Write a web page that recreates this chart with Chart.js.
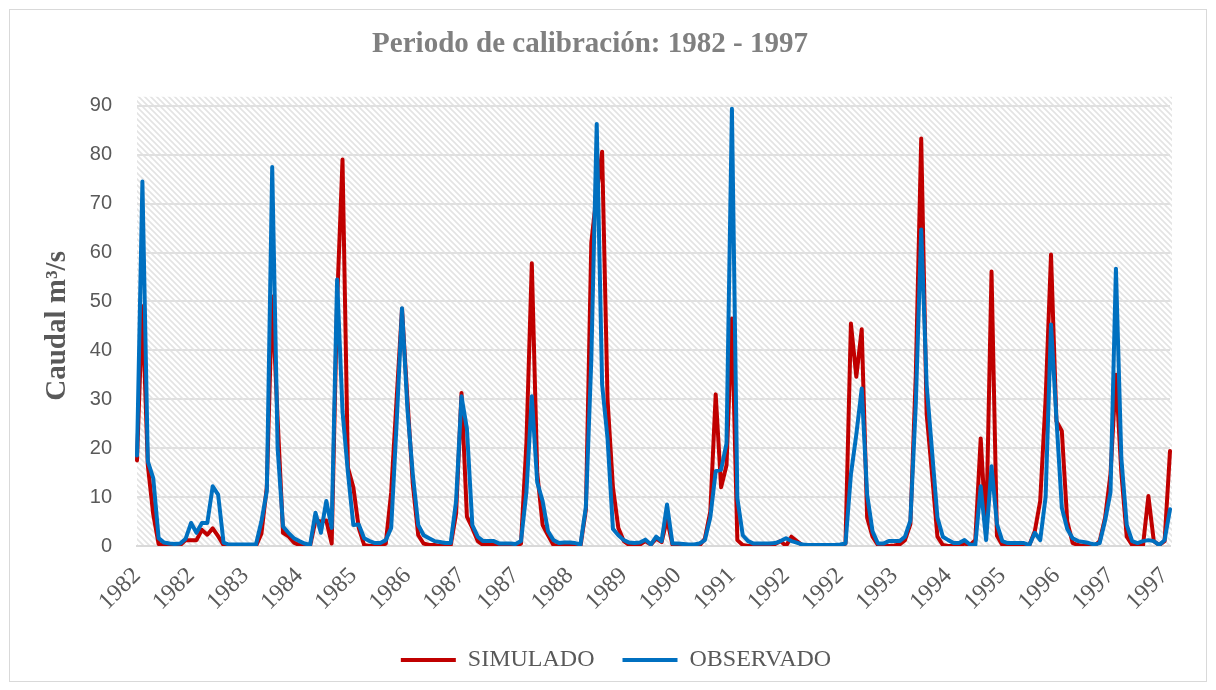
<!DOCTYPE html>
<html>
<head>
<meta charset="utf-8">
<script src="https://cdn.jsdelivr.net/npm/chart.js@4.4.0/dist/chart.umd.min.js"></script>
<style>
  html, body { margin: 0; padding: 0; background: #fff; }
  #caja { width: 1216px; height: 690px; position: relative; }
</style>
</head>
<body>
<div id="caja"><canvas id="grafico-caudal"></canvas></div>
<script>
// años del periodo (datos mensuales, enero 1982 - diciembre 1997)
const anios = [1982, 1983, 1984, 1985, 1986, 1987, 1988, 1989, 1990, 1991, 1992, 1993, 1994, 1995, 1996, 1997];
const etiquetasMeses = anios.flatMap(a => Array(12).fill(String(a)));
const pasoEtiquetas = 10; // el eje muestra una etiqueta cada 10 meses
const ticksY = [0, 10, 20, 30, 40, 50, 60, 70, 80, 90];

const caudalSimulado = [
    17.5, 49, 16.5, 6.5, 0.4, 0.2, 0.1, 0.1, 0.2, 1.2, 1.2, 1.2,
    3.3, 2.3, 3.6, 2.0, 0.2, 0, 0, 0, 0, 0, 0, 2.5,
    12, 51, 26, 2.7, 2.0, 0.7, 0.2, 0, 0, 5.2, 5.0, 5.2,
    0.5, 50, 79, 16, 12, 3.7, 0.2, 0, 0, 0, 0.5, 11,
    30, 48.5, 30, 12.6, 2.2, 0.5, 0.2, 0.2, 0, 0, 0.1, 6.6,
    31.3, 6, 3.7, 1.0, 0.2, 0.2, 0.3, 0, 0, 0, 0, 0.5,
    21, 57.8, 15, 4.3, 2.2, 0.2, 0, 0, 0, 0, 0, 7.4,
    62, 72, 80.6, 30, 12, 3.7, 1.0, 0.2, 0.2, 0.3, 1.0, 0.3,
    1.5, 0.8, 5.5, 0.3, 0.4, 0.2, 0.2, 0.2, 0.1, 1.5, 7, 31,
    12, 16.5, 46.5, 1.2, 0.2, 0, 0, 0.1, 0.1, 0.2, 0.4, 1.0,
    0, 1.9, 1.0, 0.2, 0, 0, 0, 0, 0, 0, 0, 0.5,
    45.5, 34.6, 44.3, 5.8, 1.9, 0.2, 0, 0, 0.1, 0.3, 1.2, 4.5,
    35, 83.3, 27, 14.7, 1.9, 0.2, 0, 0, 0, 0.5, 0.2, 1.2,
    22, 2.4, 56.1, 2.1, 0.2, 0.2, 0.1, 0.1, 0.1, 0.2, 3, 9.2,
    30, 59.6, 25.5, 23.5, 5, 0.6, 0.2, 0, 0, 0, 1.0, 5.8,
    14.7, 35, 15, 1.9, 0.2, 0, 0, 10.2, 1.0, 0.2, 1.0, 19.4
];

const caudalObservado = [
    18.5, 74.5, 17.3, 13.9, 1.6, 0.7, 0.5, 0.4, 0.5, 1.5, 4.7, 2.7,
    4.7, 4.7, 12.2, 10.5, 0.7, 0.3, 0.3, 0.3, 0.3, 0.3, 0.3, 5.0,
    11.2, 77.5, 20, 4.0, 2.7, 1.6, 1.0, 0.5, 0.2, 6.8, 2.7, 9.2,
    3.7, 54.5, 27.5, 15, 4.3, 4.4, 1.6, 1.0, 0.6, 0.6, 1.2, 3.7,
    25, 48.6, 28, 14.6, 4.3, 2.2, 1.6, 1.0, 0.8, 0.6, 0.6, 9.2,
    30.6, 24, 4.3, 1.9, 1.0, 1.0, 1.0, 0.5, 0.5, 0.5, 0.4, 1.0,
    11, 30.6, 13, 9.2, 3, 1.2, 0.6, 0.7, 0.7, 0.6, 0.3, 8,
    38, 86.3, 33, 22, 3.5, 2.2, 1.2, 0.7, 0.6, 0.7, 1.3, 0.3,
    1.9, 1.0, 8.5, 0.5, 0.5, 0.4, 0.3, 0.3, 0.5, 1.2, 5.8, 15.3,
    15.6, 21, 89.4, 9.8, 2.2, 1.0, 0.5, 0.5, 0.5, 0.5, 0.6, 1.0,
    1.6, 1.0, 0.7, 0.3, 0.2, 0.2, 0.2, 0.2, 0.2, 0.2, 0.3, 0.5,
    14.6, 22.8, 32.2, 10.5, 3, 0.5, 0.5, 1.0, 1.0, 1.0, 1.9, 5.2,
    29, 64.7, 33, 19.4, 5.8, 1.9, 1.2, 0.6, 0.6, 1.2, 0.3, 0.2,
    12.2, 1.2, 16.3, 4.5, 1.0, 0.6, 0.6, 0.6, 0.6, 0.2, 2.7, 1.2,
    10, 45.3, 26, 7.8, 3.5, 1.6, 1.0, 0.8, 0.6, 0.3, 0.6, 5.2,
    11, 56.7, 18, 4.3, 1.0, 0.6, 1.0, 1.2, 1.0, 0.2, 1.2, 7.5
];

const ctxCaudal = document.getElementById('grafico-caudal').getContext('2d');

// trama diagonal gris claro del área de trazado
function crearTrama() {
    const c = document.createElement('canvas');
    c.width = 6; c.height = 6;
    const g = c.getContext('2d');
    g.fillStyle = '#ffffff';
    g.fillRect(0, 0, 6, 6);
    g.strokeStyle = '#e3e3e3';
    g.lineWidth = 1.6;
    g.beginPath();
    g.moveTo(-3, 3); g.lineTo(3, 9);
    g.moveTo(0, 0); g.lineTo(6, 6);
    g.moveTo(3, -3); g.lineTo(9, 3);
    g.stroke();
    return ctxCaudal.createPattern(c, 'repeat');
}
const trama = crearTrama();

const fondoGrafico = {
    id: 'fondoGrafico',
    afterLayout(chart) {
        // la leyenda del original está algo corrida a la derecha
        chart.legend.left += 26;
        chart.legend.right += 26;
    },
    beforeDraw(chart) {
        const { ctx, chartArea } = chart;
        ctx.save();
        ctx.fillStyle = '#ffffff';
        ctx.fillRect(0, 0, chart.width, chart.height);
        ctx.strokeStyle = '#d9d9d9';
        ctx.lineWidth = 1;
        ctx.strokeRect(9.5, 9.5, 1197, 672);
        ctx.fillStyle = trama;
        ctx.fillRect(chartArea.left, chartArea.top - 9, chartArea.right - chartArea.left + 2, chartArea.bottom - chartArea.top + 9);
        ctx.restore();
    }
};

const graficoCaudal = new Chart(ctxCaudal, {
    type: 'line',
    data: {
        labels: etiquetasMeses,
        datasets: [{
            label: 'SIMULADO',
            data: caudalSimulado,
            borderColor: '#c00000',
            backgroundColor: '#c00000',
            borderWidth: 4,
            borderCapStyle: 'round',
            borderJoinStyle: 'round',
            pointRadius: 0,
            tension: 0,
            order: 1
        }, {
            label: 'OBSERVADO',
            data: caudalObservado,
            borderColor: '#0070c0',
            backgroundColor: '#0070c0',
            borderWidth: 4,
            borderCapStyle: 'round',
            borderJoinStyle: 'round',
            pointRadius: 0,
            tension: 0,
            order: 0
        }]
    },
    options: {
        responsive: true,
        maintainAspectRatio: false,
        animation: false,
        layout: { padding: { left: 10, right: 46, top: 10, bottom: 8 } },
        scales: {
            x: {
                grid: { display: false },
                border: { display: true, color: '#d9d9d9', width: 2 },
                ticks: {
                    autoSkip: false,
                    maxRotation: 45,
                    minRotation: 45,
                    padding: 8,
                    color: '#595959',
                    font: { family: '"Liberation Serif", serif', size: 24 },
                    callback: (valor, indice) => indice % pasoEtiquetas === 0 ? etiquetasMeses[indice] : null
                },
                afterFit: escala => { escala.height = 74; }
            },
            y: {
                min: 0,
                max: 90,
                afterBuildTicks: escala => { escala.ticks = ticksY.map(v => ({ value: v })); },
                grid: { color: '#e0e0e0', lineWidth: 2, drawTicks: false },
                border: { display: false },
                ticks: {
                    padding: 25,
                    color: '#595959',
                    font: { family: '"Liberation Sans", sans-serif', size: 20 }
                },
                title: {
                    display: true,
                    text: 'Caudal m³/s',
                    color: '#595959',
                    font: { family: '"Liberation Serif", serif', size: 29, weight: 'bold' },
                    padding: { top: 30, bottom: 0 }
                },
                afterFit: escala => { escala.width = 127; }
            }
        },
        plugins: {
            title: {
                display: true,
                text: 'Periodo de calibración: 1982 - 1997',
                color: '#808080',
                font: { family: '"Liberation Serif", serif', size: 29, weight: 'bold' },
                padding: { top: 17, bottom: 44 }
            },
            legend: {
                display: true,
                position: 'bottom',
                labels: {
                    usePointStyle: true,
                    pointStyle: 'line',
                    pointStyleWidth: 55,
                    padding: 28,
                    color: '#595959',
                    font: { family: '"Liberation Serif", serif', size: 24 },
                    sort: (a, b) => a.datasetIndex - b.datasetIndex
                }
            },
            tooltip: { enabled: false }
        }
    },
    plugins: [fondoGrafico]
});
</script>
</body>
</html>
